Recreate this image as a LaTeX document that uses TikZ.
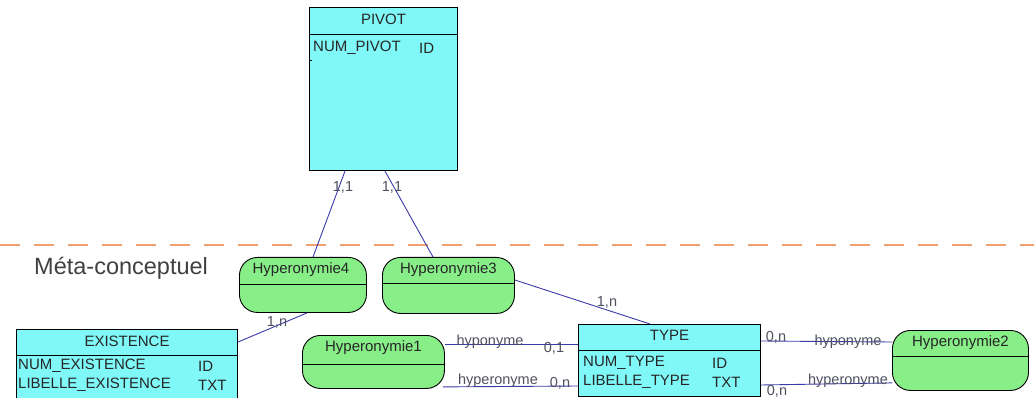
\documentclass[tikz,border=0pt]{standalone}
\usepackage{fontspec}
\setmainfont{Liberation Sans}
\usetikzlibrary{calc}
\definecolor{entfill}{HTML}{80F8F8}
\definecolor{assfill}{HTML}{88EE88}
\definecolor{lnk}{HTML}{3A3AA8}
\definecolor{lbl}{HTML}{505060}
\definecolor{dashc}{HTML}{F0A070}
\begin{document}
\begin{tikzpicture}[x=1pt,y=-1pt,
  ent/.style={draw=black,line width=1.1pt,fill=entfill,inner sep=0,anchor=north west},
  ass/.style={draw=black,line width=0.9pt,fill=assfill,rounded corners=18pt,inner sep=0,anchor=north west},
  txt/.style={inner sep=0,font=\fontsize{15}{16}\selectfont,text=black!85},
  lab/.style={inner sep=0,font=\fontsize{14.5}{15}\selectfont,text=lbl},
  link/.style={draw=lnk,line width=0.9pt}]
\useasboundingbox (0,0) rectangle (1034,398);
% dashed separator
\coordinate (dl) at (0,245);
\coordinate (dr) at (1034,245);
\draw[dashc,line width=1.2pt,dash pattern=on 20pt off 14pt] (dl) -- (dr);
\node[anchor=west,inner sep=0,font=\fontsize{23.5}{24}\selectfont,text=black!75] (meta) at (34,268) {Méta-conceptuel};
% entities
\node[ent,minimum width=148,minimum height=163] (pivot) at (309,7) {};
\draw[line width=0.9pt] (pivot.north west)+(0,27) coordinate (pa) -- (pivot.north east |- pa);
\draw[line width=0.9pt] ($(pivot.north west)+(0,53)$) -- ++(3,0);
\node[txt] (pivott) at ($(pivot.north)+(0,12)$) {PIVOT};
\node[txt,anchor=west] (pivr1) at ($(pivot.north west)+(4,41)$) {NUM\_PIVOT};
\node[txt,anchor=west] (pivr1b) at ($(pivot.north west)+(110,41)$) {ID};

\node[ent,minimum width=221,minimum height=80] (exist) at (16,329) {};
\draw[line width=0.9pt] (exist.north west)+(0,26) coordinate (ea) -- (exist.north east |- ea);
\node[txt] (existt) at ($(exist.north)+(0,12)$) {EXISTENCE};
\node[txt,anchor=west] (exr1) at ($(exist.north west)+(2,37)$) {NUM\_EXISTENCE};
\node[txt,anchor=west] (exr1b) at ($(exist.north west)+(182,37)$) {ID};
\node[txt,anchor=west] (exr2) at ($(exist.north west)+(2,56)$) {LIBELLE\_EXISTENCE};
\node[txt,anchor=west] (exr2b) at ($(exist.north west)+(182,56)$) {TXT};

\node[ent,minimum width=182,minimum height=72] (type) at (578,324) {};
\draw[line width=0.9pt] (type.north west)+(0,26) coordinate (ta) -- (type.north east |- ta);
\node[txt] (typet) at ($(type.north)+(0,11)$) {TYPE};
\node[txt,anchor=west] (tyr1) at ($(type.north west)+(5,39)$) {NUM\_TYPE};
\node[txt,anchor=west] (tyr1b) at ($(type.north west)+(134,39)$) {ID};
\node[txt,anchor=west] (tyr2) at ($(type.north west)+(5,58)$) {LIBELLE\_TYPE};
\node[txt,anchor=west] (tyr2b) at ($(type.north west)+(134,58)$) {TXT};
% associations
\node[ass,minimum width=127,minimum height=55] (h4) at (239,257) {};
\draw[line width=0.9pt] (h4.west) -- (h4.east);
\node[txt] (h4t) at ($(h4.north)+(-2,13)$) {Hyperonymie4};

\node[ass,minimum width=132,minimum height=56] (h3) at (382,257) {};
\draw[line width=0.9pt] ($(h3.west)+(0,-2)$) -- ($(h3.east)+(0,-2)$);
\node[txt] (h3t) at ($(h3.north)+(0,13)$) {Hyperonymie3};

\node[ass,minimum width=142,minimum height=53] (h1) at (302,335) {};
\draw[line width=0.9pt] ($(h1.west)+(0,2)$) -- ($(h1.east)+(0,2)$);
\node[txt] (h1t) at ($(h1.north)+(0,13)$) {Hyperonymie1};

\node[ass,minimum width=136,minimum height=60] (h2) at (892,330) {};
\draw[line width=0.9pt] ($(h2.west)+(0,-4)$) -- ($(h2.east)+(0,-4)$);
\node[txt] (h2t) at ($(h2.north)+(0,13)$) {Hyperonymie2};
% links
\draw[link] ($(pivot.south west)+(36,0)$) -- ($(h4.north west)+(74,0)$);
\draw[link] ($(pivot.south west)+(76,0)$) -- ($(h3.north west)+(51,0)$);
\draw[link] ($(exist.north east)+(0,13)$) -- ($(h4.south west)+(68,0)$);
\draw[link] ($(h3.north east)+(0,23)$) -- ($(type.north west)+(72,0)$);
\draw[link] ($(h1.north east)+(0,9)$) -- ($(type.north west)+(0,20)$);
\draw[link] ($(h1.south east)+(-2,-2)$) -- ($(type.north west)+(0,62)$);
\draw[link] ($(type.north east)+(0,17)$) -- ($(h2.north west)+(0,12)$);
\draw[link] ($(type.north east)+(0,61)$) -- ($(h2.south west)+(0,-8)$);
% labels
\node[lab] (l1) at (343,187) {1,1};
\node[lab] (l2) at (392,187) {1,1};
\node[lab] (l3) at (277,322) {1,n};
\node[lab] (l4) at (607,302) {1,n};
\node[lab] (l5) at (490,342) {hyponyme};
\node[lab] (l6) at (554,348) {0,1};
\node[lab] (l7) at (498,381) {hyperonyme};
\node[lab] (l8) at (560,383) {0,n};
\node[lab] (l9) at (776,337) {0,n};
\node[lab] (l10) at (848,342) {hyponyme};
\node[lab] (l11) at (777,391) {0,n};
\node[lab] (l12) at (848,381) {hyperonyme};
\end{tikzpicture}
\end{document}
